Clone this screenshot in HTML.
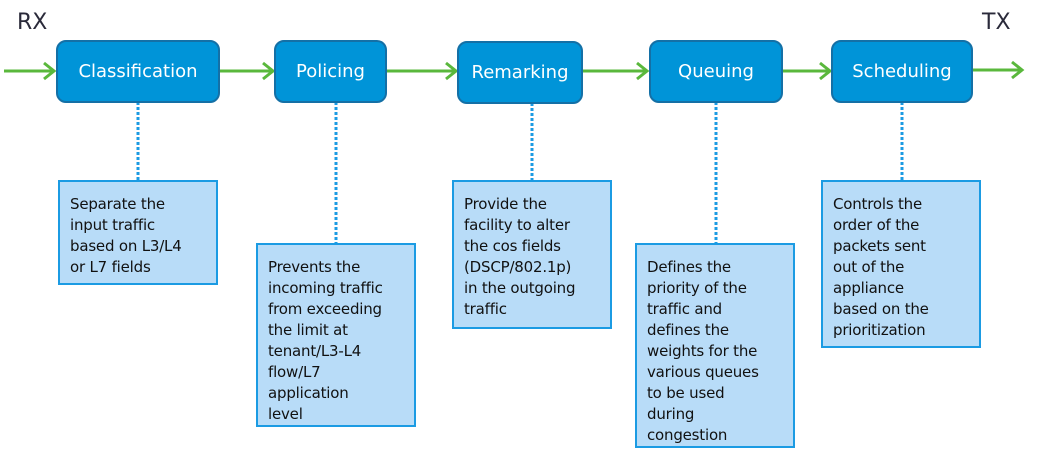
<!DOCTYPE html>
<html><head><meta charset="utf-8"><style>
body{margin:0;width:1050px;height:451px;background:#fff;position:relative;overflow:hidden;font-family:"DejaVu Sans","Liberation Sans",sans-serif}
.b{position:absolute;height:60px;top:40px;background:#0094d8;border:2px solid #1470a6;border-radius:10px;color:#fff;font-size:18px;display:flex;align-items:center;justify-content:center;box-sizing:border-box;height:63px}
.n{position:absolute;background:#b8dcf8;border:2px solid #1b9be3;box-sizing:border-box;font-size:15px;line-height:21px;color:#111;padding:12px 0 0 10px;letter-spacing:-0.2px}
.l{position:absolute;font-size:22px;color:#2a2a3a}
svg{position:absolute;left:0;top:0}
</style></head><body>
<svg width="1050" height="451">
<g stroke="#5ab83c" stroke-width="3" fill="none">
<line x1="4" y1="71" x2="54" y2="71"/><polyline points="44,63 54,71 44,79"/>
<line x1="219" y1="71" x2="273" y2="71"/><polyline points="263,63 273,71 263,79"/>
<line x1="386" y1="71" x2="456" y2="71"/><polyline points="446,63 456,71 446,79"/>
<line x1="582" y1="71" x2="647" y2="71"/><polyline points="637,63 647,71 637,79"/>
<line x1="782" y1="71" x2="830" y2="71"/><polyline points="820,63 830,71 820,79"/>
<line x1="972" y1="70" x2="1022" y2="70"/><polyline points="1012,62 1022,70 1012,78"/>
</g>
<g stroke="#1b9be3" stroke-width="3" stroke-dasharray="3,2">
<line x1="138" y1="102" x2="138" y2="180"/>
<line x1="336" y1="102" x2="336" y2="243"/>
<line x1="532" y1="103" x2="532" y2="180"/>
<line x1="716" y1="102" x2="716" y2="243"/>
<line x1="902" y1="102" x2="902" y2="180"/>
</g>
</svg>
<div class="l" style="left:17px;top:10px">RX</div>
<div class="l" style="left:982px;top:10px">TX</div>
<div class="b" style="left:56px;width:164px">Classification</div>
<div class="b" style="left:274px;width:113px">Policing</div>
<div class="b" style="left:457px;width:126px;top:41px">Remarking</div>
<div class="b" style="left:649px;width:134px">Queuing</div>
<div class="b" style="left:831px;width:142px">Scheduling</div>
<div class="n" style="left:58px;top:180px;width:160px;height:105px">Separate the<br>input traffic<br>based on L3/L4<br>or L7 fields</div>
<div class="n" style="left:256px;top:243px;width:160px;height:184px">Prevents the<br>incoming traffic<br>from exceeding<br>the limit at<br>tenant/L3-L4<br>flow/L7<br>application<br>level</div>
<div class="n" style="left:452px;top:180px;width:160px;height:149px">Provide the<br>facility to alter<br>the cos fields<br>(DSCP/802.1p)<br>in the outgoing<br>traffic</div>
<div class="n" style="left:635px;top:243px;width:160px;height:205px">Defines the<br>priority of the<br>traffic and<br>defines the<br>weights for the<br>various queues<br>to be used<br>during<br>congestion</div>
<div class="n" style="left:821px;top:180px;width:160px;height:168px">Controls the<br>order of the<br>packets sent<br>out of the<br>appliance<br>based on the<br>prioritization</div>
</body></html>
